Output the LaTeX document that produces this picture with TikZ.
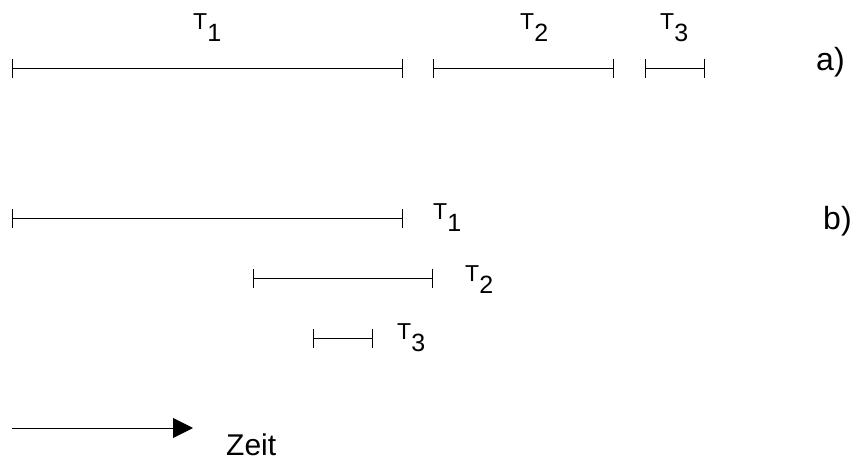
\documentclass[tikz,border=0pt]{standalone}
\usepackage{fontspec}
\setmainfont{Liberation Sans}
\usetikzlibrary{arrows.meta}
\newcommand{\tsub}[1]{{\fontsize{23}{23}\selectfont T}\raisebox{-12pt}{\fontsize{25}{25}\selectfont #1}}
\begin{document}
\begin{tikzpicture}[x=1pt,y=-1pt,
  interval/.style={line width=0.9pt,{Bar[width=19pt,line width=0.9pt]}-{Bar[width=19pt,line width=0.9pt]}},
  tlabel/.style={anchor=base west,inner sep=0pt},
  mark label/.style={anchor=base west,inner sep=0pt,font=\fontsize{32}{32}\selectfont},
  timeaxis/.style={line width=0.9pt,-{Triangle[length=20pt,width=20pt]}}]
\useasboundingbox (0,0) rectangle (856,464);
% a) intervals one after another
\coordinate (a1s) at (12,68);  \coordinate (a1e) at (403,68);
\coordinate (a2s) at (433,68); \coordinate (a2e) at (614,68);
\coordinate (a3s) at (645,68); \coordinate (a3e) at (705,68);
\draw[interval] (a1s) -- (a1e);
\draw[interval] (a2s) -- (a2e);
\draw[interval] (a3s) -- (a3e);
\node[tlabel] (la1) at (193,29) {\tsub{1}};
\node[tlabel] (la2) at (520,29) {\tsub{2}};
\node[tlabel] (la3) at (660,29) {\tsub{3}};
\node[mark label] (ma) at (816,70) {a)};
% b) overlapping intervals
\coordinate (b1s) at (12,218);  \coordinate (b1e) at (403,218);
\coordinate (b2s) at (253,278); \coordinate (b2e) at (433,278);
\coordinate (b3s) at (313,338); \coordinate (b3e) at (373,338);
\draw[interval] (b1s) -- (b1e);
\draw[interval] (b2s) -- (b2e);
\draw[interval] (b3s) -- (b3e);
\node[tlabel] (lb1) at (433,219) {\tsub{1}};
\node[tlabel] (lb2) at (465,281) {\tsub{2}};
\node[tlabel] (lb3) at (397,339) {\tsub{3}};
\node[mark label] (mb) at (823,229) {b)};
% time axis
\coordinate (ts) at (12,428); \coordinate (te) at (193,428);
\draw[timeaxis] (ts) -- (te);
\node[anchor=base west,inner sep=0pt,font=\fontsize{30}{30}\selectfont] (zeit) at (226,455) {Zeit};
\end{tikzpicture}
\end{document}
